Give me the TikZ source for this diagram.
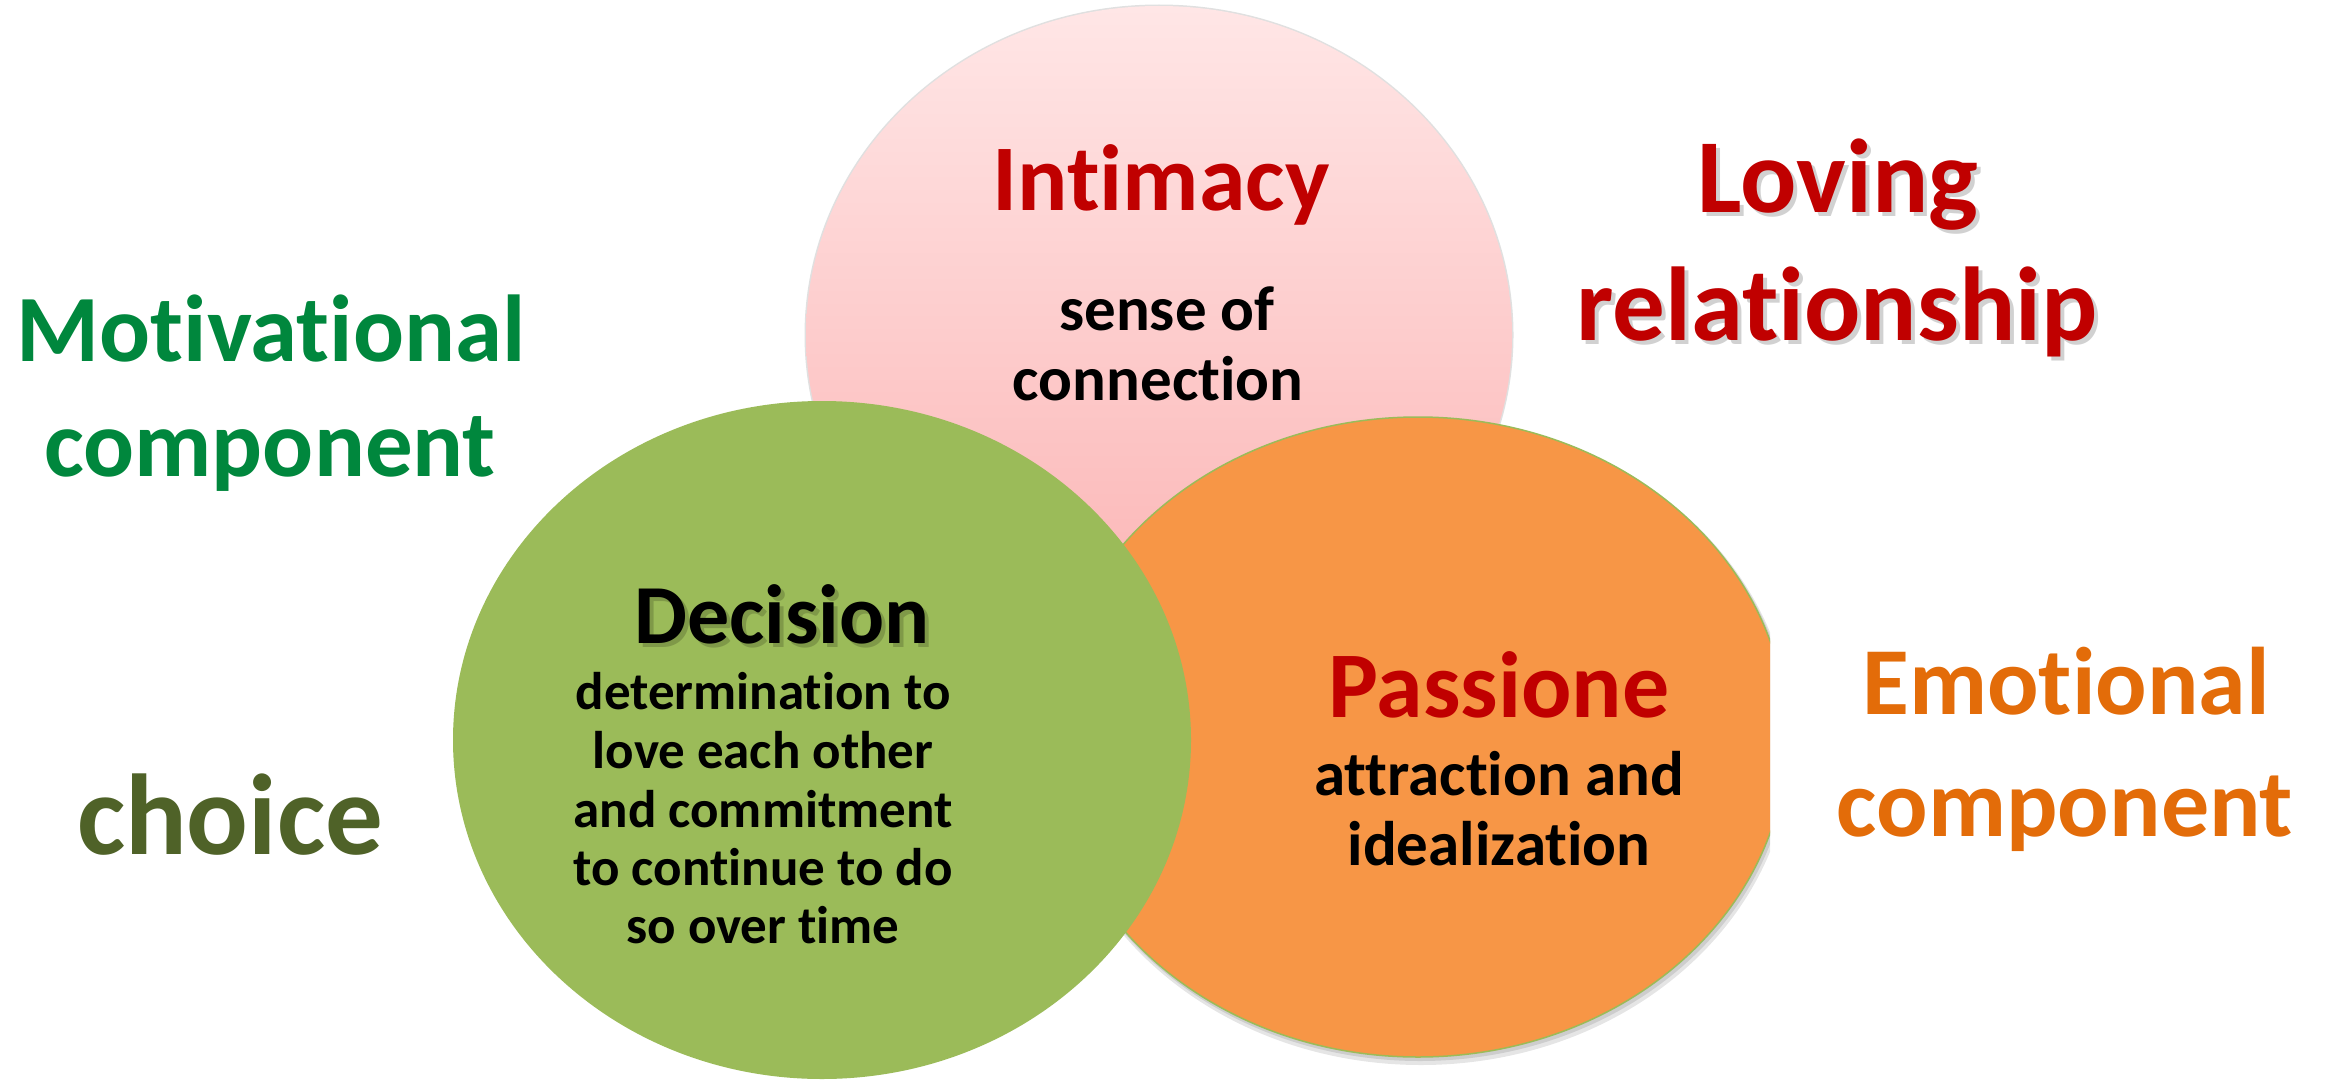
\documentclass[tikz,border=0pt]{standalone}
\usepackage{fontspec}
\setmainfont{Carlito}[Ligatures=NoCommon]
\definecolor{pinkTop}{HTML}{FFE6E6}
\definecolor{pinkBot}{HTML}{FBB2B2}
\definecolor{leafgreen}{HTML}{9BBB59}
\definecolor{passorange}{HTML}{F79646}
\definecolor{darkred}{HTML}{C00000}
\definecolor{motgreen}{HTML}{00873D}
\definecolor{emoorange}{HTML}{E36C09}
\definecolor{olive}{HTML}{4F6228}
\tikzset{
  lbl/.style={inner sep=0pt, outer sep=0pt, anchor=base},
  fs/.style={font={\fontsize{#1}{#1}\selectfont\bfseries}},
  shadowtxt/.style={text=black, opacity=0.18},
}
\begin{document}
\begin{tikzpicture}[x=1pt,y=-1pt]
\useasboundingbox (0,0) rectangle (2328,1081);
\fill[white] (0,0) rectangle (2328,1081);

% Intimacy circle (pink, gradient)
\draw[black!12, line width=3pt] (1159,335) ellipse [x radius=353, y radius=329];
\shade[top color=pinkTop, bottom color=pinkBot] (1159,335) ellipse [x radius=353, y radius=329];

% Passione circle (orange), clipped at the right
\begin{scope}
  \clip (0,0) rectangle (1770,1081);
  \fill[black, opacity=0.10] (1421,742) ellipse [x radius=371, y radius=323];
  \fill[black, opacity=0.10] (1420,740) ellipse [x radius=370, y radius=321];
  \fill[passorange, draw=leafgreen, line width=1.5pt] (1418,737) ellipse [x radius=369, y radius=320];
\end{scope}

% Decision circle (green)
\fill[leafgreen] (822,740) ellipse [x radius=369, y radius=339];

% Intimacy texts
\node[lbl, fs=94, text=darkred] (intimacy) at (1161,210) {Intimacy};
\node[lbl, fs=63] (sense) at (1167,330) {sense of};
\node[lbl, fs=63] (connection) at (1158,400) {connection};

% Loving relationship
\node[lbl, fs=105, shadowtxt] at (1842,216) {Loving};
\node[lbl, fs=105, text=darkred] (loving) at (1838,212) {Loving};
\node[lbl, fs=105, shadowtxt] at (1841,344) {relationship};
\node[lbl, fs=105, text=darkred] (relationship) at (1837,340) {relationship};

% Motivational component
\node[lbl, fs=95, text=motgreen] (motivational) at (271,361) {Motivational};
\node[lbl, fs=95, text=motgreen] (component1) at (270,476) {component};

% choice
\node[lbl, fs=115, text=olive] (choice) at (230,854) {choice};

% Decision texts
\node[lbl, fs=84, shadowtxt] at (786,647) {Decision};
\node[lbl, fs=84] (decision) at (782,643) {Decision};
\node[lbl, fs=53] (d1) at (763,709) {determination to};
\node[lbl, fs=53] (d2) at (763,768) {love each other};
\node[lbl, fs=53] (d3) at (763,827) {and commitment};
\node[lbl, fs=53] (d4) at (763,885) {to continue to do};
\node[lbl, fs=53] (d5) at (763,943) {so over time};

% Passione texts
\node[lbl, fs=94, text=darkred] (passione) at (1499,717) {Passione};
\node[lbl, fs=63] (p1) at (1499,795) {attraction and};
\node[lbl, fs=63] (p2) at (1499,865) {idealization};

% Emotional component
\node[lbl, fs=96, text=emoorange] (emotional) at (2066,714) {Emotional};
\node[lbl, fs=96, text=emoorange] (component2) at (2065,836) {component};
\end{tikzpicture}
\end{document}
